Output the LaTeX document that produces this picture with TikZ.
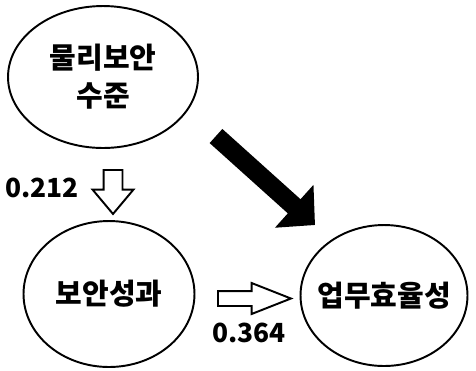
\documentclass[tikz,border=0pt]{standalone}
\usepackage{fontspec}
\setmainfont{Noto Sans CJK KR}
\usetikzlibrary{arrows.meta,shapes.geometric,shapes.arrows}
\tikzset{
  factor/.style={draw=black, ellipse, line width=1.1pt, align=center, inner sep=-0.4cm, font=\bfseries\fontsize{16.5}{21.6}\selectfont},
  coef/.style={inner sep=0pt, font=\bfseries\fontsize{15}{18}\selectfont},
  hollowarrow/.style={draw=black, fill=white, single arrow, line width=1.1pt, anchor=tail},
  strongarrow/.style={line width=0.38cm, -{Triangle[length=0.56cm, width=1.12cm]}}
}

\begin{document}
\begin{tikzpicture}[x=0.02cm, y=-0.02cm]
  \useasboundingbox (0,0) rectangle (476,370);

  \node[factor, minimum width=3.8cm, minimum height=2.84cm] (phys) at (103,77) {물리보안\\수준};
  \node[factor, minimum width=3.42cm, minimum height=2.92cm] (perf) at (109,294) {보안성과};
  \node[factor, minimum width=3.34cm, minimum height=2.82cm] (eff) at (384,295.5) {업무효율성};

  % path coefficients
  \node[hollowarrow, rotate=-90, inner sep=0.17cm, minimum height=0.88cm,
        single arrow head extend=0.22cm, single arrow tip angle=80] (down) at (113,169) {};
  \node[coef] (c212) at (42,188) {0.212};
  \node[hollowarrow, inner sep=0.13cm, minimum height=1.46cm,
        single arrow head extend=0.16cm, single arrow tip angle=43] (right) at (217,298.5) {};
  \node[coef] (c364) at (249,333) {0.364};

  \coordinate (strongtail) at (216,136);
  \coordinate (strongtip) at (315,225);
  \draw[strongarrow] (strongtail) -- (strongtip);
\end{tikzpicture}
\end{document}
